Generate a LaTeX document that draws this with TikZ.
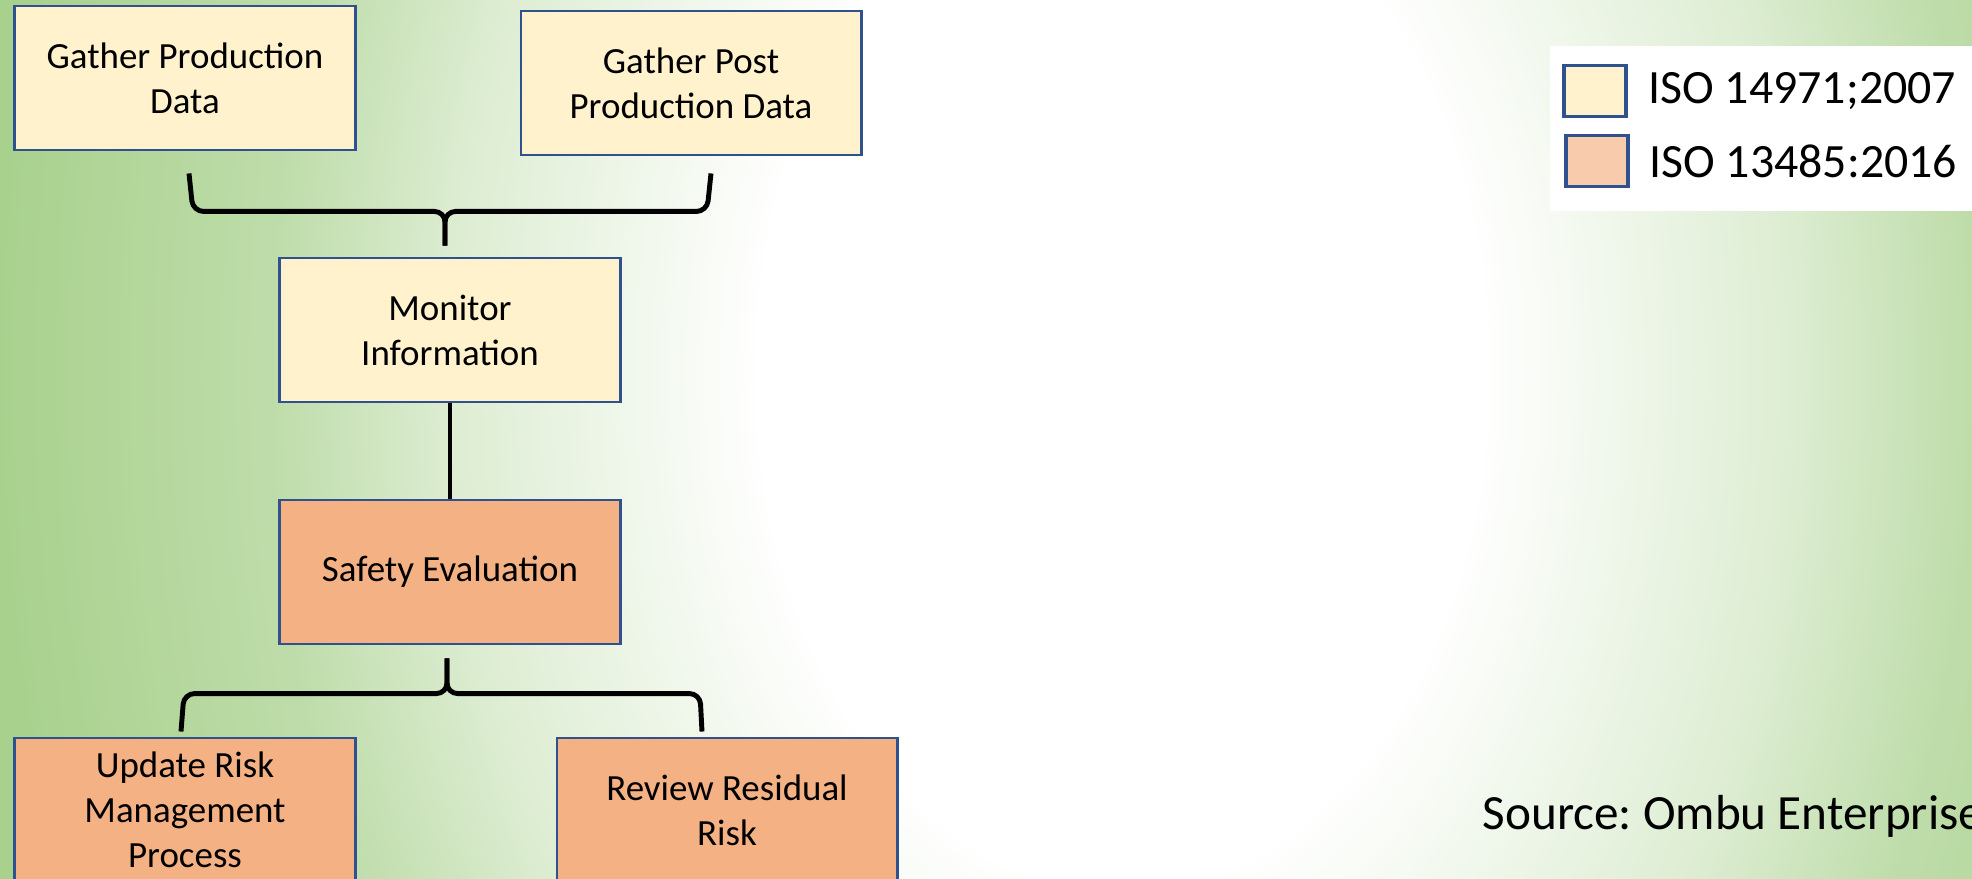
\documentclass[tikz,border=0pt]{standalone}
\usepackage{fontspec}
\setmainfont{Carlito}
\usepackage{tikz}
\usepackage{xcolor}
\usetikzlibrary{positioning,calc}
\definecolor{bgGreen}{RGB}{169,209,142}
\definecolor{isoYellow}{RGB}{255,242,204}
\definecolor{isoOrange}{RGB}{244,177,131}
\definecolor{isoPeach}{RGB}{248,203,173}
\definecolor{edgeBlue}{RGB}{47,82,143}
\pgfdeclareradialshading{bgGlow}{\pgfpoint{0bp}{0bp}}{color(0bp)=(white); color(7.5bp)=(white); color(14bp)=(bgGreen!40!white); color(17.7bp)=(bgGreen!75!white); color(23.4bp)=(bgGreen); color(50bp)=(bgGreen)}
\frenchspacing

\begin{document}
\begin{tikzpicture}[
            x=0.01cm, y=-0.01cm,
            block/.style={rectangle, draw=edgeBlue, line width=0.8pt, fill=isoYellow, minimum width=3.4cm, minimum height=1.44cm, inner sep=0pt, align=center, font=\fontsize{10.5}{12.8}\selectfont},
            key/.style={rectangle, draw=edgeBlue, line width=1pt, minimum width=0.62cm, minimum height=0.51cm, inner sep=0pt},
            keytext/.style={inner sep=0pt, font=\fontsize{13.6}{16}\selectfont},
            curly/.style={line width=1.4pt, rounded corners=3pt}
        ]
            \useasboundingbox (0,0) rectangle (1972,879);
            \clip (0,0) rectangle (1972,879);
            \shade[shading=bgGlow] (-78,-1336) rectangle (2322,2078);

            \node[block] (gprod) at (185,78) {Gather Production\\Data};
            \node[block] (gpost) at (691,83) {Gather Post\\Production Data};
            \node[block] (monitor) at (450,330) {Monitor\\Information};
            \node[block, fill=isoOrange] (safety) at (450,572) {Safety Evaluation};
            \node[block, fill=isoOrange] (update) at (185,810) {Update Risk\\Management\\Process};
            \node[block, fill=isoOrange] (review) at (727,810) {Review Residual\\Risk};

            \coordinate (topL) at ($(gprod.south)+(4,22)$);
            \coordinate (topR) at ($(gpost.south)+(20,17)$);
            \coordinate (topM) at ($(monitor.north)+(-5,-11)$);
            \coordinate (botL) at ($(update.north)+(-4,-5)$);
            \coordinate (botR) at ($(review.north)+(-25,-5)$);
            \coordinate (botM) at ($(safety.south)+(-3,13)$);

            \draw[curly] (topL) -- ++(4,38) -| (topM);
            \draw[curly] (topR) -- ++(-4,38) -| (topM);
            \draw[curly] (monitor.south) -- (safety.north);
            \draw[curly] (botL) -- ++(3,-38) -| (botM);
            \draw[curly] (botR) -- ++(-2,-38) -| (botM);

            \fill[white] (1550,46) rectangle (1972,211);
            \node[key, fill=isoYellow] (key1) at (1595,91) {};
            \node[key, fill=isoPeach] (key2) at (1597,161) {};
            \node[keytext, right=0.2cm of key1] (iso1) {ISO 14971;2007};
            \node[keytext, right=0.19cm of key2] (iso2) {ISO 13485:2016};

            \node[keytext, font=\fontsize{14}{16.8}\selectfont, anchor=base west] (source) at (1482,829) {Source: Ombu Enterprises};
        \end{tikzpicture}
\end{document}
